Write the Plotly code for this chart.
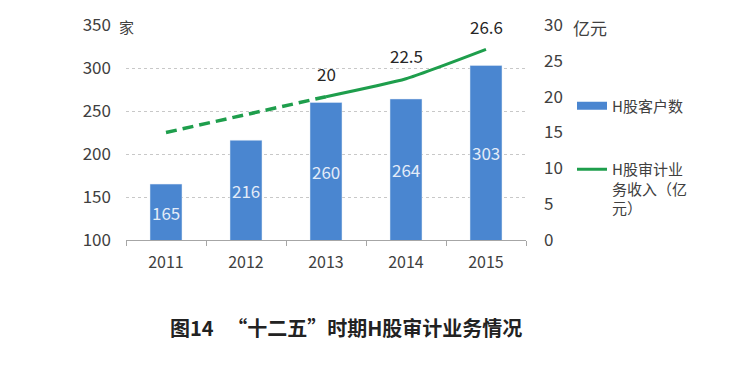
import plotly.graph_objects as go

years = ["2011", "2012", "2013", "2014", "2015"]
customers = [165, 216, 260, 264, 303]
revenue = [15, 17.5, 20, 22.5, 26.6]
dash_years = years[:3]
dash_revenue = revenue[:3]
solid_years = years[2:]
solid_revenue = revenue[2:]

bar_name = "H股客户数"
line_name = "H股审计业<br>务收入（亿<br>元）"
title_text = "图14   “十二五”时期H股审计业务情况"

Y_MIN, Y_MAX = 100, 350
Y2_MIN, Y2_MAX = 0, 30

BLUE = "#4a86d0"
GREEN = "#1e9e4c"
TXT = "#404040"
FONT = "Noto Sans CJK SC"

fig = go.Figure()

fig.add_trace(go.Bar(
    x=years, y=customers, marker_color=BLUE, showlegend=False, hoverinfo="skip",
))
# legend swatch for bars (wide rectangle like the reference)
fig.add_trace(go.Scatter(
    x=[years[0]], y=[None], mode="lines", name=bar_name,
    line=dict(color=BLUE, width=8), legendgroup="a",
))
fig.add_trace(go.Scatter(
    x=dash_years, y=dash_revenue, mode="lines", yaxis="y2", showlegend=False,
    line=dict(color=GREEN, width=3.5, dash="11px,6px"),
))
fig.add_trace(go.Scatter(
    x=solid_years, y=solid_revenue, mode="lines", yaxis="y2", name=line_name,
    line=dict(color=GREEN, width=3, shape="spline", smoothing=0.5), legendgroup="b",
))

# bar value labels, centred in the visible part of each bar
for i, v in enumerate(customers):
    fig.add_annotation(x=i, y=(Y_MIN + v) / 2, yref="y", text=str(v), showarrow=False,
                       font=dict(size=17, color="#e3ecf8", family=FONT))

# line value labels above the solid part
for xv, yv in zip(solid_years, solid_revenue):
    fig.add_annotation(x=years.index(xv), y=yv, yref="y2", text=str(yv), showarrow=False,
                       yshift=23, font=dict(size=17, color="#262626", family=FONT))

fig.add_annotation(x=0, xref="paper", y=Y_MAX, yref="y", text="家", showarrow=False,
                   xanchor="center", yanchor="middle", yshift=-1,
                   font=dict(size=15, color=TXT, family=FONT))
fig.add_annotation(x=1.113, xref="paper", y=Y2_MAX, yref="y2", text="亿元", showarrow=False,
                   xanchor="left", yanchor="middle", yshift=-2,
                   font=dict(size=17, color=TXT, family=FONT))
fig.add_annotation(x=(346 - 126) / 400, xref="paper", y=-(327 - 240) / 215, yref="paper",
                   text="<b>" + title_text + "</b>", xanchor="center", yanchor="middle",
                   showarrow=False, font=dict(size=20, color="#222222", family=FONT))

fig.update_layout(
    width=739, height=365,
    margin=dict(l=118, r=221, t=17, b=133, autoexpand=False),
    paper_bgcolor="white", plot_bgcolor="white",
    font=dict(family=FONT, color=TXT, size=15),
    bargap=0.6,
    showlegend=True,
    legend=dict(x=1.115, y=0.70, xanchor="left", yanchor="top",
                font=dict(size=15, color=TXT, family=FONT),
                traceorder="grouped", tracegroupgap=41, valign="top",
                itemwidth=30, bgcolor="rgba(0,0,0,0)"),
    xaxis=dict(type="category", categoryorder="array", categoryarray=years,
               range=[-0.5, len(years) - 0.5], automargin=False,
               showline=True, linecolor="#a6a6a6", linewidth=1,
               ticks="outside", tickson="boundaries", ticklen=5, tickcolor="#a6a6a6",
               tickfont=dict(size=16, color=TXT), showgrid=False, tickangle=0,
               ticklabelstandoff=8),
    yaxis=dict(range=[Y_MIN, Y_MAX], dtick=50, showgrid=True, gridcolor="#c8c8c8",
               griddash="dot", gridwidth=1, zeroline=False, showline=False,
               automargin=False,
               tickfont=dict(size=17, color=TXT), ticklabelstandoff=14),
    yaxis2=dict(range=[Y2_MIN, Y2_MAX], dtick=5, overlaying="y", side="right",
                showgrid=False, zeroline=False, showline=False, automargin=False,
                tickfont=dict(size=17, color=TXT), ticklabelstandoff=17),
)

fig.write_html("out.html")
